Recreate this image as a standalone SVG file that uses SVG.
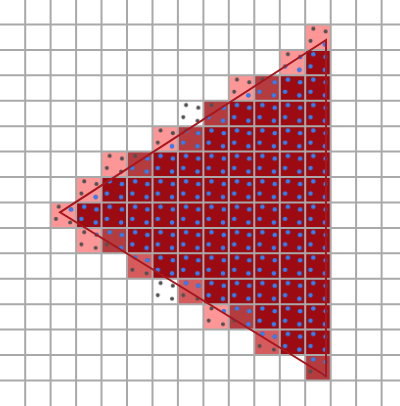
<svg xmlns="http://www.w3.org/2000/svg" width="400" height="406" viewBox="0 0 400 406">
  <style>
    .F { fill: #9d0b12; }
    .L { fill: #fd9696; }
    .M3 { fill: #b43b3e; }
    .M2 { fill: #d65b5c; }
    .grid { stroke: #a9a9a9; stroke-width: 2; fill: none; }
    .tri { stroke: #a8161e; stroke-width: 2; fill: none; stroke-linejoin: miter; }
  </style>
  <defs>
    <pattern id="greyDots" patternUnits="userSpaceOnUse" x="-0.3" y="-1" width="25.46" height="25.43">
      <circle cx="8.15" cy="4.3" r="2" fill="#505050"/>
      <circle cx="20.4" cy="7" r="2" fill="#505050"/>
      <circle cx="5.35" cy="16.5" r="2" fill="#505050"/>
      <circle cx="19.6" cy="20.1" r="2" fill="#505050"/>
    </pattern>
    <pattern id="blueDots" patternUnits="userSpaceOnUse" x="-0.3" y="-1" width="25.46" height="25.43">
      <circle cx="8.15" cy="4.3" r="2.15" fill="#2f80ff"/>
      <circle cx="20.4" cy="7" r="2.15" fill="#2f80ff"/>
      <circle cx="5.35" cy="16.5" r="2.15" fill="#2f80ff"/>
      <circle cx="19.6" cy="20.1" r="2.15" fill="#2f80ff"/>
    </pattern>
    <path id="cellUnion" d="M305.22 24.43 H330.68 V380.45 H305.22 V355.02 H254.3 V329.59 H203.38 V304.16 H152.46 V278.73 H127 V253.3 H76.08 V227.87 H50.62 V202.44 H76.08 V177.01 H101.54 V151.58 H152.46 V126.15 H177.92 V100.72 H228.84 V75.29 H279.76 V49.86 H305.22 Z"/>
    <clipPath id="cellsClip">
      <use href="#cellUnion"/>
    </clipPath>
  </defs>
  <rect x="0" y="0" width="400" height="406" fill="#ffffff"/>
  <g id="cells" transform="translate(-0.3,-1) scale(25.46,25.43)">
    <g id="full-cells">
      <rect class="F" x="12" y="2" width="1" height="1"/>
      <rect class="F" x="11" y="3" width="2" height="1"/>
      <rect class="F" x="9" y="4" width="4" height="1"/>
      <rect class="F" x="8" y="5" width="5" height="1"/>
      <rect class="F" x="6" y="6" width="7" height="1"/>
      <rect class="F" x="4" y="7" width="9" height="1"/>
      <rect class="F" x="3" y="8" width="10" height="1"/>
      <rect class="F" x="5" y="9" width="8" height="1"/>
      <rect class="F" x="6" y="10" width="7" height="1"/>
      <rect class="F" x="8" y="11" width="5" height="1"/>
      <rect class="F" x="10" y="12" width="3" height="1"/>
      <rect class="F" x="11" y="13" width="2" height="1"/>
    </g>
    <g id="light-cells">
      <rect class="L" x="12" y="1" width="1" height="1"/>
      <rect class="L" x="11" y="2" width="1" height="1"/>
      <rect class="L" x="9" y="3" width="1" height="1"/>
      <rect class="L" x="6" y="5" width="1" height="1"/>
      <rect class="L" x="4" y="6" width="1" height="1"/>
      <rect class="L" x="3" y="7" width="1" height="1"/>
      <rect class="L" x="2" y="8" width="1" height="1"/>
      <rect class="L" x="3" y="9" width="1" height="1"/>
      <rect class="L" x="8" y="12" width="1" height="1"/>
    </g>
    <g id="three-quarter-cells">
      <rect class="M3" x="10" y="3" width="1" height="1"/>
      <rect class="M3" x="8" y="4" width="1" height="1"/>
      <rect class="M3" x="7" y="5" width="1" height="1"/>
      <rect class="M3" x="5" y="6" width="1" height="1"/>
      <rect class="M3" x="4" y="9" width="1" height="1"/>
      <rect class="M3" x="9" y="12" width="1" height="1"/>
      <rect class="M3" x="12" y="14" width="1" height="1"/>
    </g>
    <g id="half-cells">
      <rect class="M2" x="5" y="10" width="1" height="1"/>
      <rect class="M2" x="7" y="11" width="1" height="1"/>
      <rect class="M2" x="10" y="13" width="1" height="1"/>
    </g>
  </g>
  <g id="grid">
    <path class="grid" d="M25.2 0 V406 M50.6 0 V406 M76.1 0 V406 M101.5 0 V406 M127 0 V406 M152.5 0 V406 M177.9 0 V406 M203.4 0 V406 M228.8 0 V406 M254.3 0 V406 M279.8 0 V406 M305.2 0 V406 M330.7 0 V406 M356.1 0 V406 M381.6 0 V406"/>
    <path class="grid" d="M0 24.4 H400 M0 49.9 H400 M0 75.3 H400 M0 100.7 H400 M0 126.2 H400 M0 151.6 H400 M0 177 H400 M0 202.4 H400 M0 227.9 H400 M0 253.3 H400 M0 278.7 H400 M0 304.2 H400 M0 329.6 H400 M0 355 H400 M0 380.5 H400"/>
  </g>
  <g id="samples">
    <use id="uncovered-samples" href="#cellUnion" fill="url(#greyDots)"/>
    <polygon id="covered-samples" fill="url(#blueDots)" clip-path="url(#cellsClip)" points="326,40 60,212.3 326,376"/>
  </g>
  <g id="triangle">
    <polygon class="tri" points="326,40 60,212.3 326,376"/>
  </g>
</svg>
